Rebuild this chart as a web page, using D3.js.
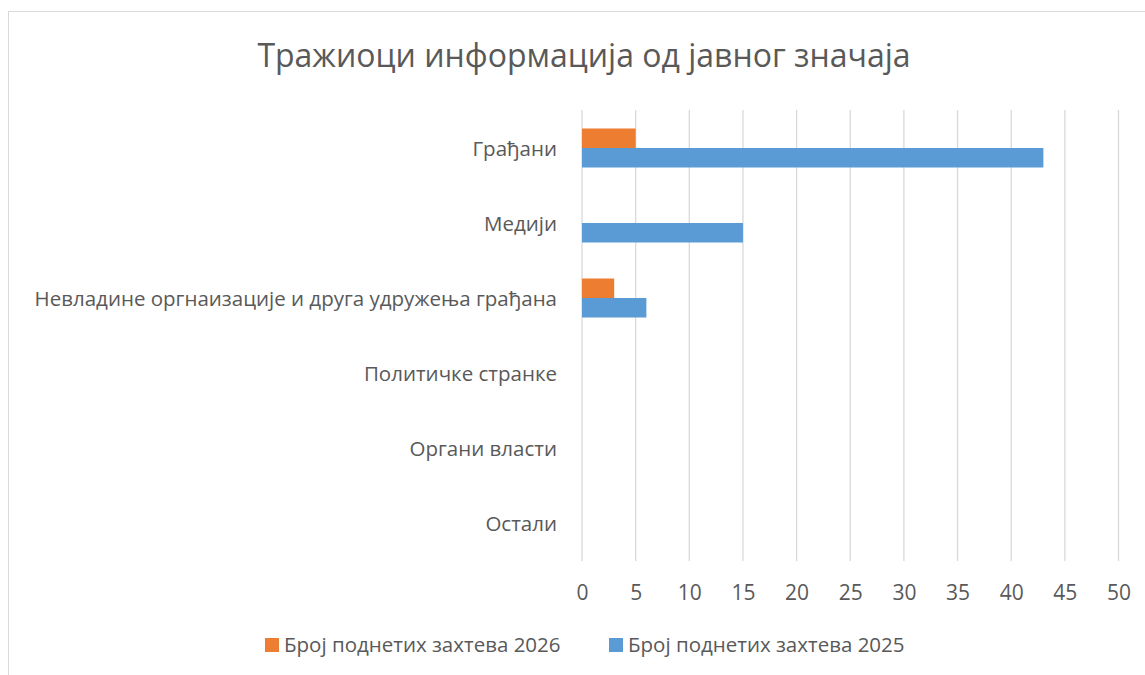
<!DOCTYPE html>
<html>
<head>
<meta charset="utf-8">
<script src="https://cdn.jsdelivr.net/npm/d3@7"></script>
<style>
  body { margin: 0; background: #fff; }
  text { font-family: "Open Sans", sans-serif; fill: #595959; }
</style>
</head>
<body>
<script>
// data
const kategorije = ['Грађани', 'Медији', 'Невладине оргнаизације и друга удружења грађана',
  'Политичке странке', 'Органи власти', 'Остали'];
const serije = ['Број поднетих захтева 2026', 'Број поднетих захтева 2025'];
const vrednosti2026 = [5, 0, 3, 0, 0, 0];
const vrednosti2025 = [43, 15, 6, 0, 0, 0];
const tickovi = [0, 5, 10, 15, 20, 25, 30, 35, 40, 45, 50];
const boje = ['#ED7D31', '#5B9BD5'];

const sirina = 1145, visina = 675;

const platno = d3.select('body')
  .append('svg')
  .attr('width', sirina)
  .attr('height', visina);

// chart border
platno.append('rect')
  .attr('x', 8.5).attr('y', 11.5)
  .attr('width', sirina + 20).attr('height', visina + 20)
  .attr('fill', 'none')
  .attr('stroke', '#d9d9d9');

// title
platno.append('text')
  .attr('x', 584).attr('y', 67)
  .attr('text-anchor', 'middle')
  .attr('font-size', 32)
  .text('Тражиоци информација од јавног значаја');

// scales
const x = d3.scaleLinear().domain([0, 50]).range([582, 1118.5]);
const y = d3.scaleBand().domain(kategorije).range([110.5, 560.5])
  .paddingInner(0.48).paddingOuter(0.24);
const y2 = d3.scaleBand().domain(serije).range([0, y.bandwidth()]);

// gridlines
platno.append('g')
  .selectAll('line')
  .data(tickovi)
  .join('line')
  .attr('x1', d => x(d)).attr('x2', d => x(d))
  .attr('y1', 110).attr('y2', 561)
  .attr('stroke', '#d9d9d9')
  .attr('stroke-width', 1.3);

// x axis labels
const osa = d3.axisBottom(x).tickValues(tickovi).tickSize(0).tickPadding(0);
platno.append('g')
  .attr('transform', 'translate(0,585)')
  .call(osa)
  .call(g => g.select('.domain').remove())
  .selectAll('text')
  .attr('font-size', 21)
  .attr('fill', '#595959')
  .style('font-family', '"Open Sans", sans-serif');

// category labels
platno.append('g')
  .selectAll('text')
  .data(kategorije)
  .join('text')
  .attr('x', 557)
  .attr('y', d => y(d) + y.bandwidth() / 2)
  .attr('dy', '0.39em')
  .attr('text-anchor', 'end')
  .attr('font-size', 20.5)
  .text(d => d);

// bars
const redovi = kategorije.map((k, i) => ({ k, v: [vrednosti2026[i], vrednosti2025[i]] }));
platno.append('g')
  .selectAll('g')
  .data(redovi)
  .join('g')
  .attr('transform', d => `translate(0,${y(d.k)})`)
  .selectAll('rect')
  .data(d => d.v.map((v, j) => ({ s: serije[j], v, j })))
  .join('rect')
  .attr('x', x(0))
  .attr('y', d => y2(d.s))
  .attr('width', d => x(d.v) - x(0))
  .attr('height', y2.bandwidth())
  .attr('fill', d => boje[d.j]);

// legend
const legenda = platno.append('g')
  .selectAll('g')
  .data(serije)
  .join('g')
  .attr('transform', (d, i) => `translate(${[265, 609][i]},638)`);
legenda.append('rect')
  .attr('width', 14).attr('height', 14)
  .attr('fill', (d, i) => boje[i]);
legenda.append('text')
  .attr('x', 19).attr('y', 14)
  .attr('font-size', 20.5)
  .text(d => d);
</script>
</body>
</html>
